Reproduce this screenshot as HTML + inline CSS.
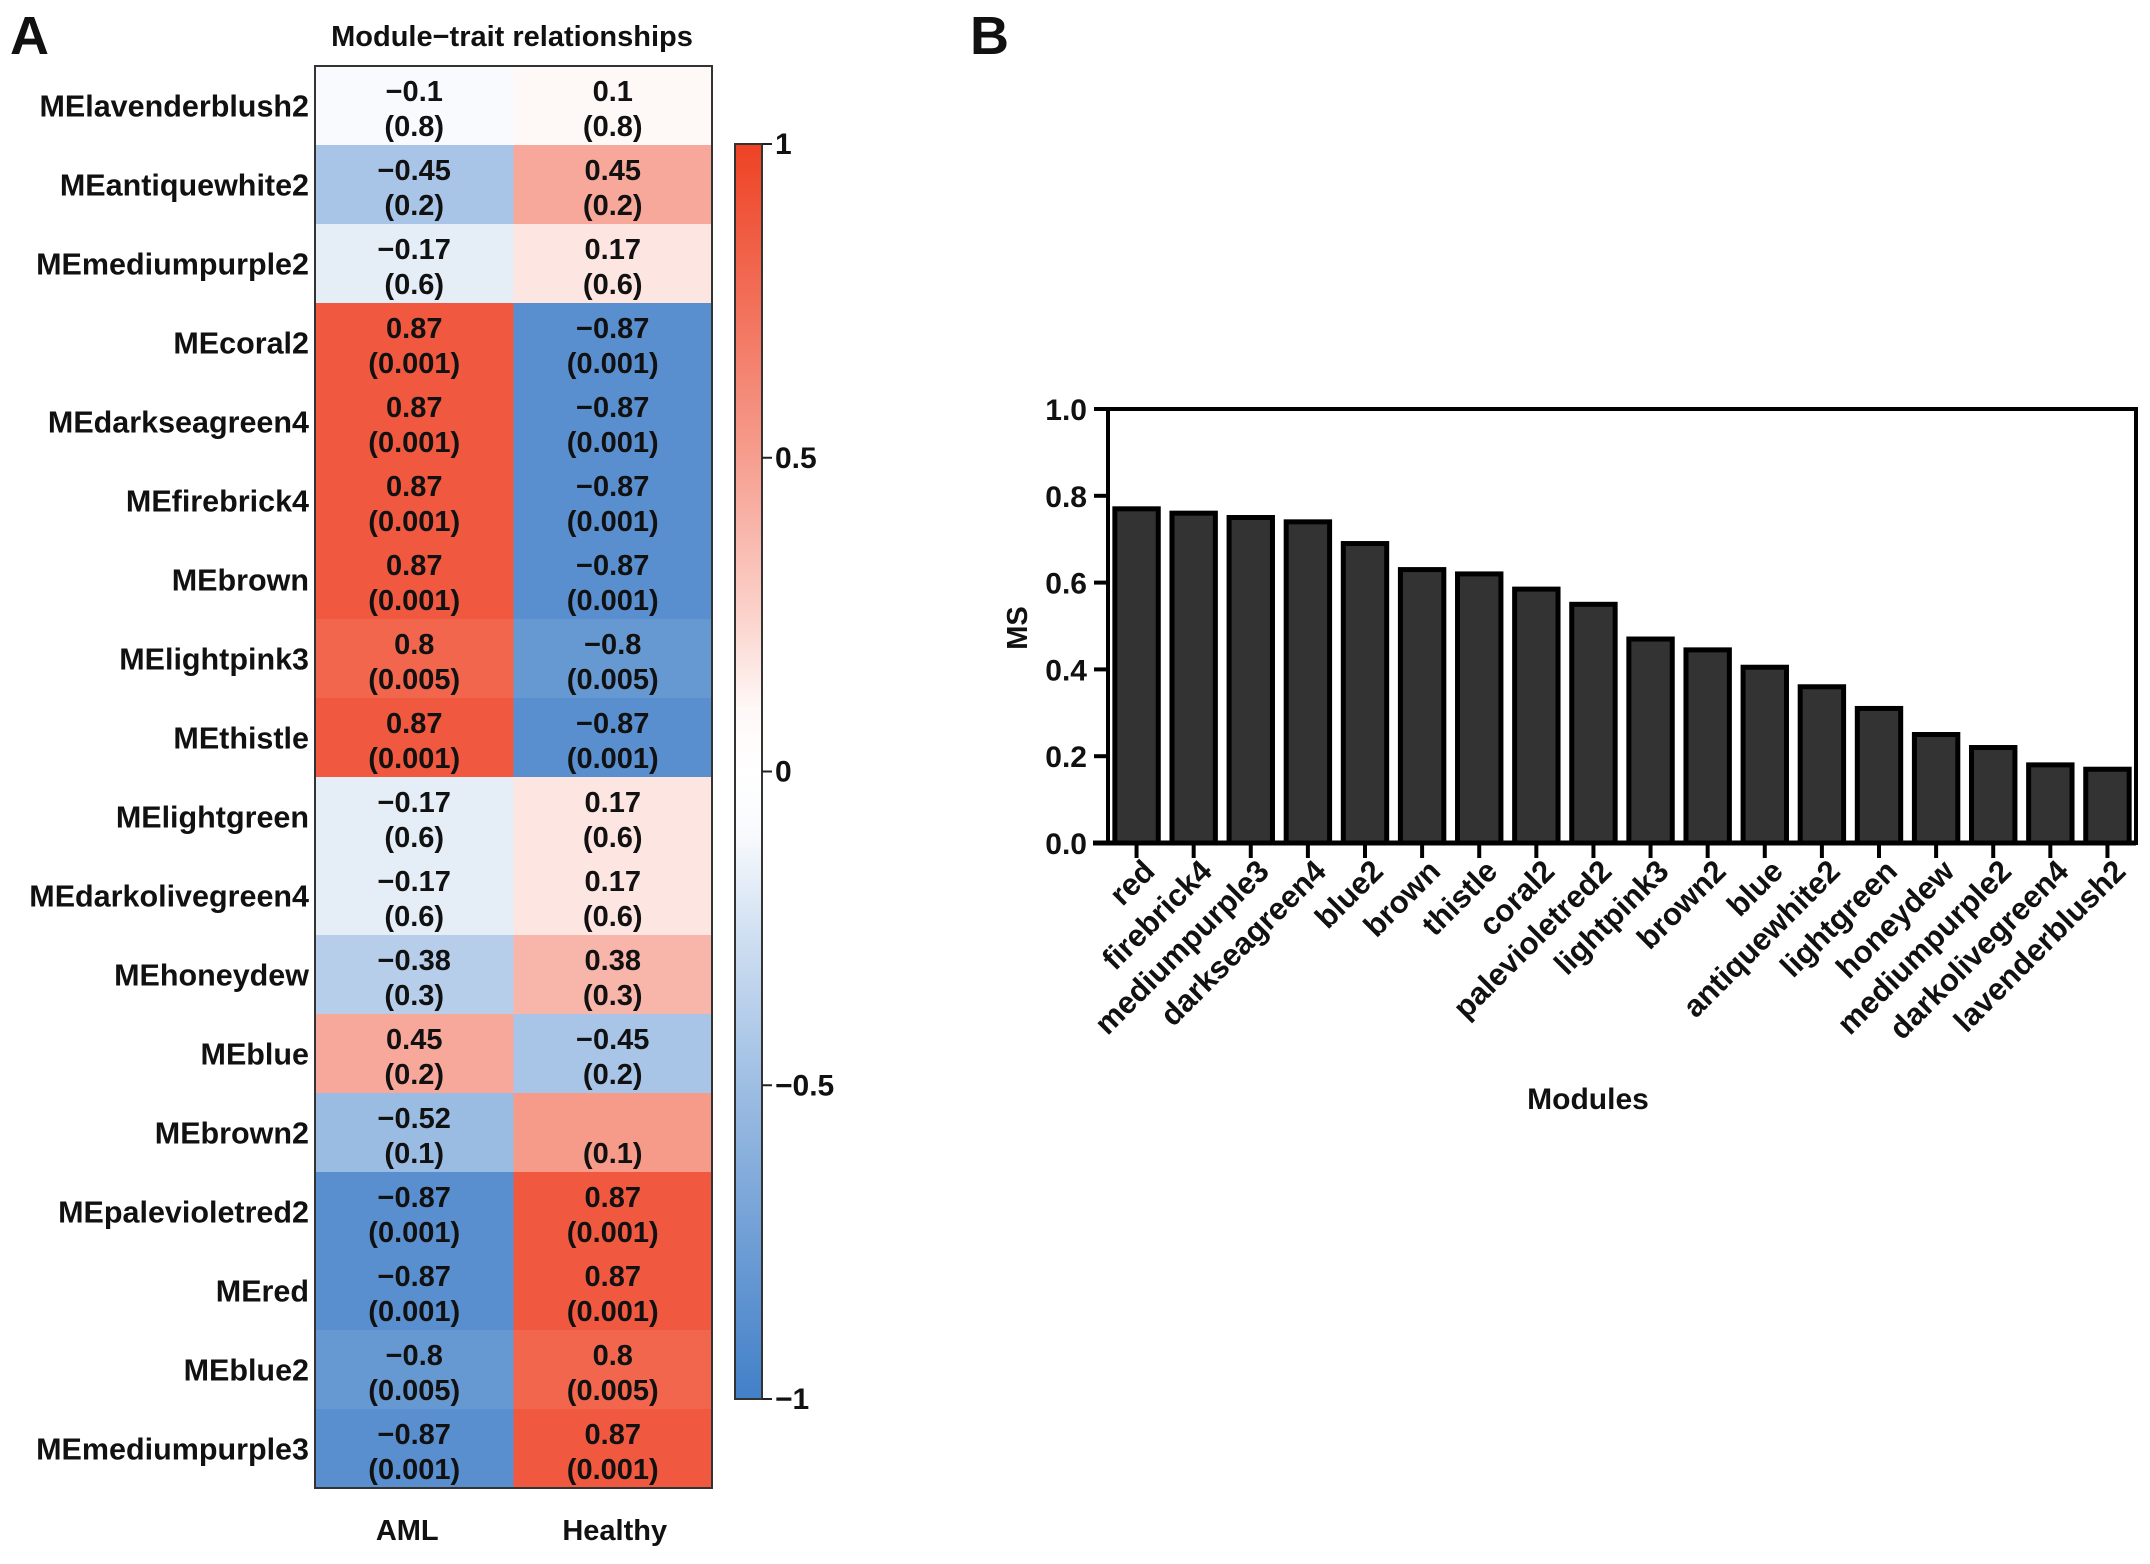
<!DOCTYPE html>
<html><head><meta charset="utf-8"><style>
html,body{margin:0;padding:0;background:#fff}
svg text{font-family:"Liberation Sans",Arial,sans-serif;font-weight:bold;fill:#111}
</style></head><body>
<svg id="fig" width="2150" height="1559" viewBox="0 0 2150 1559" xmlns="http://www.w3.org/2000/svg">
<text x="10" y="54" font-size="54">A</text>
<text x="970" y="54" font-size="54">B</text>
<text x="512" y="46" font-size="29" text-anchor="middle">Module−trait relationships</text>
<g id="heat"></g>
<g id="cbar"></g>
<g id="bars"></g>
</svg>
<script>
const modules=["MElavenderblush2","MEantiquewhite2","MEmediumpurple2","MEcoral2","MEdarkseagreen4","MEfirebrick4","MEbrown","MElightpink3","MEthistle","MElightgreen","MEdarkolivegreen4","MEhoneydew","MEblue","MEbrown2","MEpalevioletred2","MEred","MEblue2","MEmediumpurple3"];
const amlCorr=[-0.1,-0.45,-0.17,0.87,0.87,0.87,0.87,0.8,0.87,-0.17,-0.17,-0.38,0.45,-0.52,-0.87,-0.87,-0.8,-0.87];
const healthyCorr=[0.1,0.45,0.17,-0.87,-0.87,-0.87,-0.87,-0.8,-0.87,0.17,0.17,0.38,-0.45,0.52,0.87,0.87,0.8,0.87];
const pvals=["0.8","0.2","0.6","0.001","0.001","0.001","0.001","0.005","0.001","0.6","0.6","0.3","0.2","0.1","0.001","0.001","0.005","0.001"];
const traits=["AML","Healthy"];
const cbarTicks=[1,0.5,0,-0.5,-1];
const cbarLabels=["1","0.5","0","−0.5","−1"];
const barCats=["red","firebrick4","mediumpurple3","darkseagreen4","blue2","brown","thistle","coral2","palevioletred2","lightpink3","brown2","blue","antiquewhite2","lightgreen","honeydew","mediumpurple2","darkolivegreen4","lavenderblush2"];
const barVals=[0.77,0.76,0.75,0.74,0.69,0.63,0.62,0.585,0.55,0.47,0.445,0.405,0.36,0.31,0.25,0.22,0.18,0.17];
const yTicks=[0,0.2,0.4,0.6,0.8,1.0];
const yTickLabels=["0.0","0.2","0.4","0.6","0.8","1.0"];

const NS="http://www.w3.org/2000/svg";
function mk(tag,attrs,parent,txt){const e=document.createElementNS(NS,tag);for(const k in attrs)e.setAttribute(k,attrs[k]);if(txt!==undefined)e.textContent=txt;parent.appendChild(e);return e;}
function fmt(v){return (v<0?"−":"")+String(Math.abs(v));}
function col(v){const hi=[238,66,36],lo=[66,128,200];const c=v>=0?hi:lo;
 let t=Math.min(1,Math.abs(v));t=Math.max(0,(t-0.08)/0.92);t=Math.pow(t,0.85);
 return "rgb("+[0,1,2].map(i=>Math.round(255+(c[i]-255)*t)).join(",")+")";}

// heatmap
const heat=document.getElementById('heat');
const hx0=315,hx1=712,hy0=66,hy1=1488;
const cw=(hx1-hx0)/traits.length,rh=(hy1-hy0)/modules.length;
const xCell=i=>hx0+i*cw, yRow=r=>hy0+r*rh;
modules.forEach((m,r)=>{
 [amlCorr,healthyCorr].forEach((arr,c)=>{
  const rc=mk('rect',{x:xCell(c),y:yRow(r),width:cw+0.5,height:rh+0.5,fill:col(arr[r])},heat);
  
  
  const cx=xCell(c)+cw/2;
  const hide=(r===13&&c===1);
  if(!hide){const t1=mk('text',{x:cx,y:yRow(r)+35,'font-size':29,'text-anchor':'middle'},heat,fmt(arr[r]));
   
   }
  const t2=mk('text',{x:cx,y:yRow(r)+70,'font-size':29,'text-anchor':'middle'},heat,"("+pvals[r]+")");
  
  
 });
 const lb=mk('text',{x:309,y:yRow(r)+rh/2+11,'font-size':30.5,'text-anchor':'end'},heat,m);
 
 
});
mk('rect',{x:hx0,y:hy0,width:hx1-hx0,height:hy1-hy0,fill:'none',stroke:'#333','stroke-width':2},heat);
traits.forEach((t,i)=>{const e=mk('text',{x:xCell(i)+cw/2+(i?2:-7),y:1540,'font-size':29,'text-anchor':'middle'},heat,t);
 
 });

// colorbar
const cb=document.getElementById('cbar');
const cbx=735,cbw=27,cby0=144,cby1=1399;
const cbY=v=>cby0+(1-v)/2*(cby1-cby0);
const defs=mk('defs',{},cb);
const g=mk('linearGradient',{id:'cg',x1:0,y1:0,x2:0,y2:1},defs);
[1,0.75,0.5,0.25,0.1,0,-0.1,-0.25,-0.5,-0.75,-1].forEach(v=>mk('stop',{offset:((1-v)/2*100)+'%','stop-color':col(v)},g));
mk('rect',{x:cbx,y:cby0,width:cbw,height:cby1-cby0,fill:'url(#cg)',stroke:'#333','stroke-width':2},cb);
cbarTicks.forEach((v,i)=>{const y=cbY(v);
 mk('line',{x1:cbx+cbw,x2:cbx+cbw+10,y1:y,y2:y,stroke:'#222','stroke-width':2},cb);
 const e=mk('text',{x:cbx+cbw+13,y:y+10,'font-size':30},cb,cbarLabels[i]);
 
 });

// bar chart
const bc=document.getElementById('bars');
const bx0=1108,bx1=2136,by0=409,by1=843;
const band=(bx1-bx0)/barCats.length;
const xB=i=>bx0+band*(i+0.5);
const yB=v=>by1-v*(by1-by0);
barCats.forEach((c,i)=>{const w=band*0.76;
 const b=mk('rect',{x:xB(i)-w/2,y:yB(barVals[i]),width:w,height:by1-yB(barVals[i]),fill:'#333',stroke:'#000','stroke-width':5},bc);
 
 
 mk('line',{x1:xB(i),x2:xB(i),y1:by1,y2:by1+15,stroke:'#000','stroke-width':4},bc);
 const x=xB(i)+20,y=by1+30;
 const e=mk('text',{x:x,y:y,'font-size':31,'text-anchor':'end',transform:'rotate(-45 '+x+' '+y+')'},bc,c);
 
 
});
mk('rect',{x:bx0,y:by0,width:bx1-bx0,height:by1-by0,fill:'none',stroke:'#000','stroke-width':4},bc);
mk('line',{x1:1093,x2:bx1,y1:by1,y2:by1,stroke:'#000','stroke-width':5},bc);
yTicks.forEach((v,i)=>{const y=yB(v);
 mk('line',{x1:1094,x2:bx0,y1:y,y2:y,stroke:'#000','stroke-width':4},bc);
 const e=mk('text',{x:1087,y:y+11,'font-size':30,'text-anchor':'end'},bc,yTickLabels[i]);
 
 });
const yt=mk('text',{x:1027,y:628,'font-size':29,'text-anchor':'middle',transform:'rotate(-90 1027 628)'},bc,'MS');


const xt=mk('text',{x:1588,y:1109,'font-size':30,'text-anchor':'middle'},bc,'Modules');


</script>
</body></html>
